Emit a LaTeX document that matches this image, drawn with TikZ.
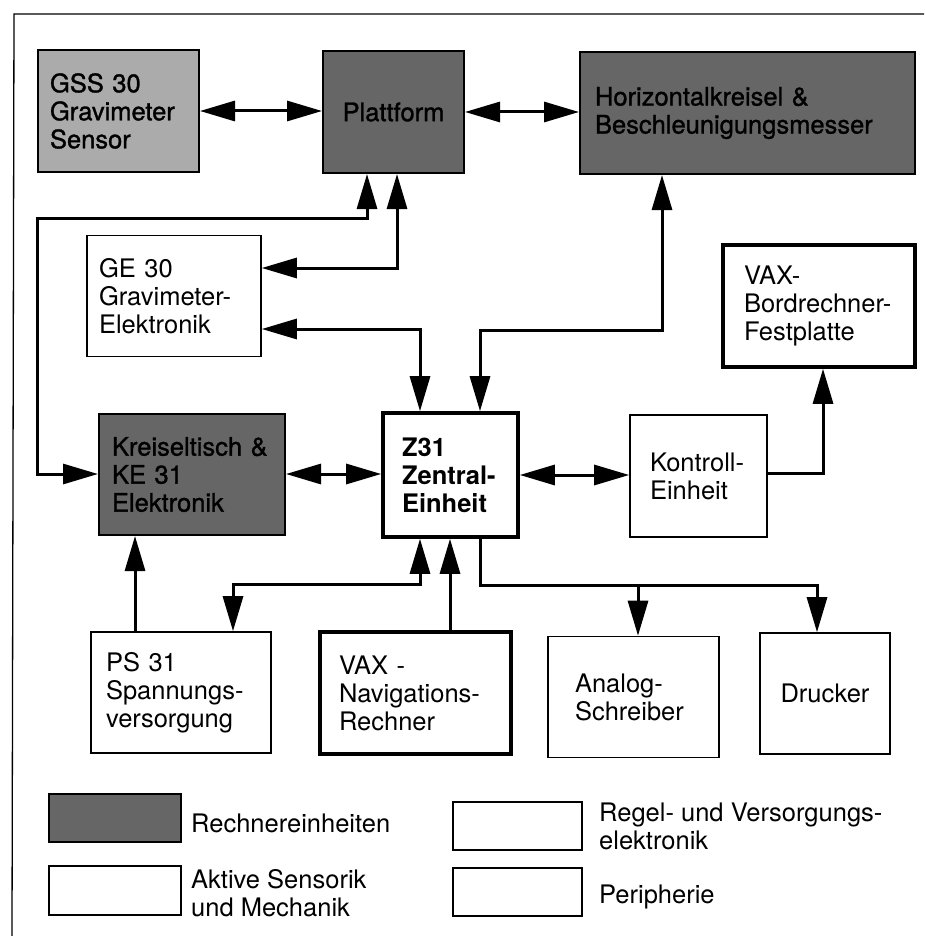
\documentclass[tikz,border=0pt]{standalone}
\usepackage{fontspec}
\setmainfont{TeX Gyre Heros}
\newfontfamily\heavyfont[FakeBold=1.2]{TeX Gyre Heros}
\usetikzlibrary{arrows.meta}
\tikzset{
  box/.style={draw, line width=1.6pt, inner sep=0pt, align=left, fill=white,
    font=\fontsize{25.5}{28}\selectfont},
  thickbox/.style={box, line width=3.6pt},
  darkbox/.style={box, fill=black!60, line width=2pt, font=\heavyfont\fontsize{25.5}{28}\selectfont},
  lightbox/.style={box, fill=black!33, line width=2pt, font=\heavyfont\fontsize{25.5}{28}\selectfont},
  ins/.style 2 args={inner xsep=#1pt, text width=#2pt},
  lbl/.style={inner sep=5pt, align=left, anchor=west, font=\fontsize{25.5}{28}\selectfont},
  conn/.style={line width=3pt},
  bi/.style={conn, {Triangle[length=35pt,width=20pt]}-{Triangle[length=35pt,width=20pt]}},
  uni/.style={conn, -{Triangle[length=35pt,width=20pt]}},
}
\begin{document}
\begin{tikzpicture}[x=1pt,y=-1pt]
\useasboundingbox (0,0) rectangle (924,936);
% frame
\draw[line width=1.3pt] (12,936) -- (14,14) -- (924,14);

% nodes
\node[lightbox, ins={12}{137}, minimum width=161pt, minimum height=122pt] (gss) at (118.5,111) {GSS 30\\Gravimeter\\Sensor};
\node[darkbox, minimum width=141pt, minimum height=122pt] (plat) at (393.5,112) {Plattform};
\node[darkbox, ins={15}{305}, minimum width=335pt, minimum height=122pt] (horiz) at (747.5,113) {Horizontalkreisel \&\\Beschleunigungsmesser};
\node[box, ins={12}{150}, minimum width=174pt, minimum height=121pt] (ge) at (174,296) {GE 30\\Gravimeter-\\Elektronik};
\node[thickbox, ins={21}{150}, minimum width=192pt, minimum height=122pt] (bord) at (819,306) {VAX-\\Bordrechner-\\Festplatte};
\node[darkbox, ins={13}{160}, minimum width=186pt, minimum height=121pt] (krt) at (192,474.5) {Kreiseltisch \&\\KE 31\\Elektronik};
\node[thickbox, ins={19}{97}, minimum width=135pt, minimum height=124pt, font=\bfseries\fontsize{25.5}{28}\selectfont] (z31) at (450.5,475) {Z31\\Zentral-\\Einheit};
\node[box, ins={20}{97}, minimum width=137pt, minimum height=122pt] (kon) at (698.5,476) {Kontroll-\\Einheit};
\node[box, ins={15}{150}, minimum width=180pt, minimum height=121pt] (ps) at (181,692.5) {PS 31\\Spannungs-\\versorgung};
\node[thickbox, ins={19}{153}, minimum width=191pt, minimum height=122pt] (nav) at (415.5,693) {VAX -\\Navigations-\\Rechner};
\node[box, ins={27}{117}, minimum width=171pt, minimum height=121pt] (ana) at (633.5,697) {Analog-\\Schreiber};
\node[box, minimum width=130pt, minimum height=121pt] (dru) at (825,693.5) {Drucker};

% legend
\node[darkbox, minimum width=132pt, minimum height=48pt] (l1) at (115,818) {};
\node[lbl] (t1) at (186,823) {Rechnereinheiten};
\node[box, minimum width=132pt, minimum height=49pt] (l2) at (115,890.5) {};
\node[lbl] (t2) at (186,893) {Aktive Sensorik\\und Mechanik};
\node[box, minimum width=129pt, minimum height=48pt] (l3) at (517.5,826) {};
\node[lbl] (t3) at (594,826) {Regel- und Versorgungs-\\elektronik};
\node[box, minimum width=129pt, minimum height=48pt] (l4) at (517.5,892) {};
\node[lbl] (t4) at (594,897) {Peripherie};

% connectors
\draw[bi] (gss.east) -- (gss.east -| plat.west);
\draw[bi] (plat.east) -- (plat.east -| horiz.west);
\draw[bi] (367,0 |- plat.south) -- (367,218) -- (37,218) -- (37,474) -- (37,474 -| krt.west);
\draw[bi] (397,0 |- plat.south) -- (397,268) -- (397,268 -| ge.east);
\draw[bi] (ge.east |- 0,329) -- (420,329) -- (420,0 |- z31.north);
\draw[bi] (662,0 |- horiz.south) -- (662,330) -- (480,330) -- (480,0 |- z31.north);
\draw[bi] (krt.east |- 0,474) -- (z31.west |- 0,474);
\draw[bi] (z31.east |- 0,475) -- (kon.west |- 0,475);
\draw[uni] (kon.east |- 0,473) -- (823,473) -- (823,0 |- bord.south);
\draw[uni] (135,0 |- ps.north) -- (135,0 |- krt.south);
\draw[bi] (420,0 |- z31.south) -- (420,584) -- (233,584) -- (233,0 |- ps.north);
\draw[uni] (450,0 |- nav.north) -- (450,0 |- z31.south);
\draw[uni] (480,0 |- z31.south) -- (480,585) -- (817,585) -- (817,0 |- dru.north);
\draw[uni] (638,585) -- (638,0 |- ana.north);
\end{tikzpicture}
\end{document}
